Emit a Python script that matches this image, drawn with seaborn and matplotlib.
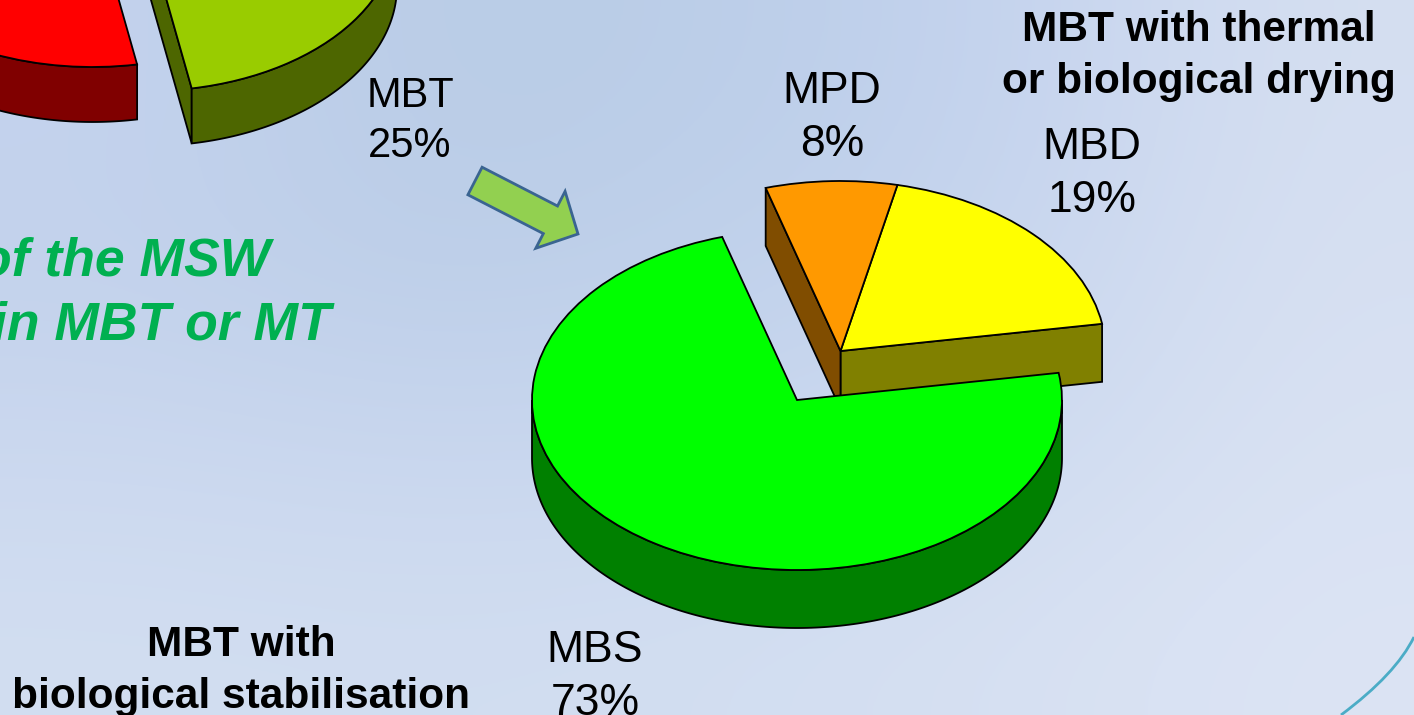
import numpy as np
import seaborn as sns
import matplotlib.pyplot as plt
from matplotlib.colors import to_rgb
from matplotlib.patches import FancyArrow, PathPatch
from matplotlib.path import Path

sns.set_theme(style="white")
plt.rcParams["font.family"] = ["Liberation Sans", "DejaVu Sans"]

W, H = 1414, 715

# parent pie, only partly in the frame
top_labels = ["MBT", "Other"]
top_values = [25, 75]
top_colors = ["#99CC00", "#FF0000"]
top_sides = ["#4D6600", "#800000"]

# breakdown of the MBT share
mbt_labels = ["MBD", "MPD", "MBS"]
mbt_values = [19, 8, 73]
mbt_colors = ["#FFFF00", "#FF9900", "#00FF00"]
mbt_sides = ["#808000", "#804D00", "#008000"]

# background shades, rows top to bottom
bg_rows = [
    ["#C4D3EE", "#B9CCE6", "#BBCEE8", "#C3D2EE", "#D5DFF1"],
    ["#C3D2EC", "#BCCEE8", "#C0D1EB", "#C6D5EE", "#D7E0F2"],
    ["#CBD8EF", "#C8D6EE", "#C9D7EF", "#CDDAF0", "#D9E2F3"],
    ["#D2DEF1", "#D1DDF0", "#D2DEF1", "#D6E0F2", "#DCE4F4"],
]


def pie_3d(values, colors, sides, start, centers, rx, ry, depth, z):
    # whole-figure axes scaled so that one data unit is one radius
    ax = fig.add_axes([0, 0, 1, 1], zorder=z)
    wedges, _ = ax.pie(values, colors=colors, startangle=start,
                       wedgeprops={"edgecolor": "black", "linewidth": 1.3})
    ax.set_aspect("auto")
    ax.set_xlim(0, W / rx)
    ax.set_ylim(-H / ry, 0)
    d = depth / ry
    n = len(wedges)
    for i, (w, side, (px, py)) in enumerate(zip(wedges, sides, centers)):
        cx, cy = px / rx, -py / ry
        w.set_center((cx, cy))
        w.set_zorder(py + 0.5)
        t1, t2 = w.theta1, w.theta2
        faces = []
        # radial cut faces that look towards the viewer, unless a neighbour
        # with the same centre closes them
        if np.cos(np.radians(t1)) > 0 and centers[i - 1] != centers[i]:
            faces.append(t1)
        if np.cos(np.radians(t2)) < 0 and centers[(i + 1) % n] != centers[i]:
            faces.append(t2)
        for a in faces:
            ex, ey = cx + np.cos(np.radians(a)), cy + np.sin(np.radians(a))
            ax.fill([cx, ex, ex, cx], [cy, ey, ey - d, cy - d], facecolor=side,
                    edgecolor="black", linewidth=1.3, zorder=py)
        # front part of the rim
        for k in (0, 1):
            lo, hi = max(t1, 180 + 360 * k), min(t2, 360 + 360 * k)
            if lo >= hi:
                continue
            th = np.radians(np.linspace(lo, hi, 200))
            xs = cx + np.cos(th)
            ys = cy + np.sin(th)
            ax.fill(np.r_[xs, xs[::-1]], np.r_[ys, ys[::-1] - d], facecolor=side,
                    edgecolor="black", linewidth=1.3, zorder=py)
    ax.patch.set_alpha(0)
    return ax


fig = plt.figure(figsize=(W / 100, H / 100), dpi=100)

bg = fig.add_axes([0, 0, 1, 1], zorder=0)
bg.imshow(np.array([[to_rgb(c) for c in row] for row in bg_rows]),
          aspect="auto", interpolation="bicubic")
bg.axis("off")

pie_3d(top_values, top_colors, top_sides, 280.3,
       [(147, -69), (92.4, -93)], 250, 160, 55, 1)
pie_3d(mbt_values, mbt_colors, mbt_sides, 9.2,
       [(840.5, 351), (840.5, 351), (797, 400)], 265, 170, 58, 2)

ann = fig.add_axes([0, 0, 1, 1], zorder=3)
ann.set_xlim(0, W)
ann.set_ylim(H, 0)
ann.axis("off")

ann.add_patch(FancyArrow(475, 181, 103, 53, width=31, head_width=64, head_length=31,
                         length_includes_head=True, facecolor="#92D050",
                         edgecolor="#3A6491", linewidth=2))
ann.add_patch(PathPatch(Path([(1341, 715), (1396, 674), (1414, 637)],
                             [Path.MOVETO, Path.CURVE3, Path.CURVE3]),
                        facecolor="none", edgecolor="#4BACC6", linewidth=2))

ann.text(410, 121, f"{top_labels[0]}\n{top_values[0]}%", fontsize=30,
         ha="center", va="center", color="black", linespacing=1.33)
for name, val, (x, y) in zip(mbt_labels, mbt_values,
                             [(1092, 174), (832, 118), (595, 677)]):
    ann.text(x, y, f"{name}\n{val}%", fontsize=32,
             ha="center", va="center", color="black", linespacing=1.38)

ann.text(1199, 56, "MBT with thermal\nor biological drying", fontsize=30.5,
         fontweight="bold", ha="center", va="center", color="black", linespacing=1.37)
ann.text(241, 671, "MBT with\nbiological stabilisation", fontsize=30.5,
         fontweight="bold", ha="center", va="center", color="black", linespacing=1.37)

ann.text(270, 262, "of the MSW", fontsize=38.5, fontweight="bold", fontstyle="italic",
         ha="right", va="center", color="#00B050")
ann.text(331, 325, "in MBT or MT", fontsize=38.5, fontweight="bold", fontstyle="italic",
         ha="right", va="center", color="#00B050")

fig.savefig("out.png", dpi=100)
plt.close(fig)
